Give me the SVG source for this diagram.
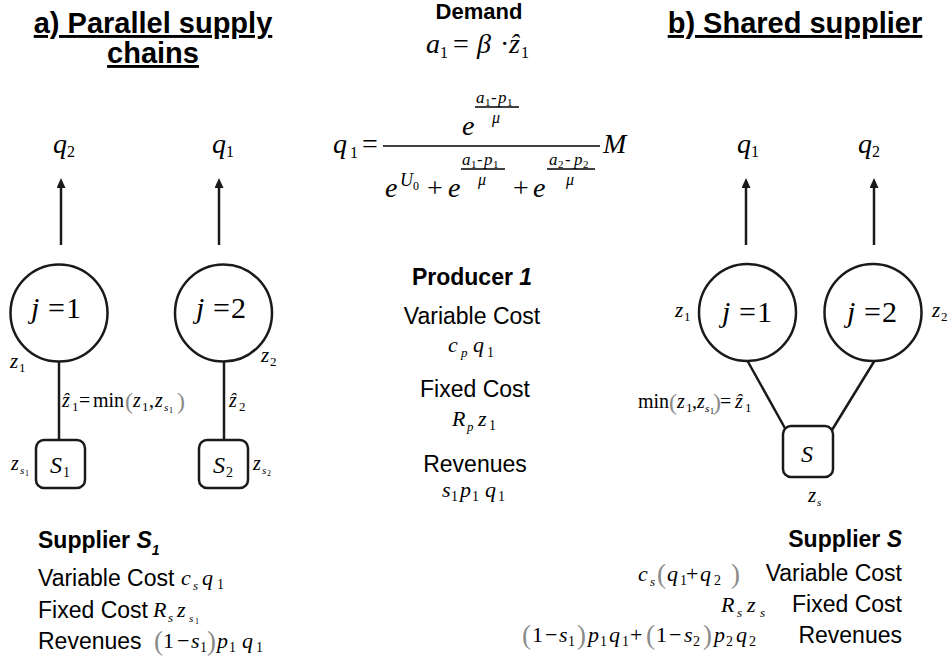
<svg xmlns="http://www.w3.org/2000/svg" width="950" height="663" viewBox="0 0 950 663">
<defs>
<style>
text { fill:#000; }
.mi { font-family:"Liberation Serif","DejaVu Serif",serif; font-style:italic; }
.up { font-style:normal; }
.ss { font-family:"Liberation Sans",Arial,sans-serif; }
.bd { font-weight:bold; }
.par { fill:#8a8a8a; font-style:normal; }
.node { fill:#fff; stroke:#1a1a1a; stroke-width:2.5; }
.conn { stroke:#1a1a1a; stroke-width:2.5; fill:none; }
.bar { stroke:#000; stroke-width:1.3; }
</style>
<marker id="ah" markerUnits="userSpaceOnUse" markerWidth="10" markerHeight="9" viewBox="0 0 10 9" refX="0" refY="4.5" orient="auto"><path d="M0,0 L10,4.5 L0,9 z" fill="#1a1a1a"/></marker>
</defs>
<rect width="950" height="663" fill="#fff"/>

<!-- titles -->
<text class="ss bd" x="153" y="33" font-size="29" text-anchor="middle" text-decoration="underline">a) Parallel supply</text>
<text class="ss bd" x="153" y="63" font-size="29" text-anchor="middle" text-decoration="underline">chains</text>
<text class="ss bd" x="795" y="33" font-size="29" text-anchor="middle" text-decoration="underline">b) Shared supplier</text>

<!-- demand -->
<text class="ss bd" x="479" y="19" font-size="22" text-anchor="middle">Demand</text>
<text class="mi" font-size="28" y="53"><tspan x="426">a</tspan><tspan class="up" x="440" y="58" font-size="16">1</tspan><tspan class="up" x="453" y="53">=</tspan><tspan x="477">β</tspan><tspan class="up" x="500">·</tspan><tspan x="509">ẑ</tspan><tspan class="up" x="521" y="58" font-size="16">1</tspan></text>

<text class="mi" font-size="28" y="153"><tspan x="333">q</tspan><tspan class="up" x="350" y="158" font-size="16">1</tspan><tspan class="up" x="362" y="153">=</tspan><tspan x="603">M</tspan></text>
<line class="bar" x1="383" y1="146" x2="600" y2="146"/>
<!-- numerator -->
<text class="mi" font-size="28" x="462" y="135">e</text>
<text class="mi" font-size="17" y="103"><tspan x="476">a</tspan><tspan class="up" x="485" y="106" font-size="11">1</tspan><tspan class="up ss" x="491" y="103">-</tspan><tspan x="498">p</tspan><tspan class="up" x="507" y="106" font-size="11">1</tspan></text>
<line class="bar" x1="475" y1="107" x2="519" y2="107" stroke-width="1"/>
<text class="mi" font-size="16" x="492" y="123">μ</text>
<!-- denominator -->
<text class="mi" font-size="28" y="197"><tspan x="385">e</tspan><tspan class="up" x="427">+</tspan><tspan x="448">e</tspan><tspan class="up" x="513">+</tspan><tspan x="533">e</tspan></text>
<text class="mi" font-size="18" y="186"><tspan x="400">U</tspan><tspan class="up" x="413" y="190" font-size="12">0</tspan></text>
<text class="mi" font-size="17" y="165"><tspan x="462">a</tspan><tspan class="up" x="471" y="168" font-size="11">1</tspan><tspan class="up ss" x="477" y="165">-</tspan><tspan x="484">p</tspan><tspan class="up" x="493" y="168" font-size="11">1</tspan></text>
<line class="bar" x1="461" y1="169" x2="505" y2="169" stroke-width="1"/>
<text class="mi" font-size="16" x="478" y="185">μ</text>
<text class="mi" font-size="17" y="165"><tspan x="549">a</tspan><tspan class="up" x="558" y="168" font-size="11">2</tspan><tspan class="up ss" x="565" y="165">-</tspan><tspan x="574">p</tspan><tspan class="up" x="583" y="168" font-size="11">2</tspan></text>
<line class="bar" x1="547" y1="169" x2="595" y2="169" stroke-width="1"/>
<text class="mi" font-size="16" x="566" y="185">μ</text>

<!-- q labels -->
<text class="mi" font-size="28" y="153"><tspan x="53">q</tspan><tspan class="up" x="67" y="157" font-size="16">2</tspan></text>
<text class="mi" font-size="28" y="153"><tspan x="212">q</tspan><tspan class="up" x="226" y="157" font-size="16">1</tspan></text>
<text class="mi" font-size="28" y="153"><tspan x="737">q</tspan><tspan class="up" x="751" y="157" font-size="16">1</tspan></text>
<text class="mi" font-size="28" y="153"><tspan x="858">q</tspan><tspan class="up" x="872" y="157" font-size="16">2</tspan></text>

<!-- connectors -->
<g id="connectors">
<line class="conn" x1="61" y1="245" x2="61" y2="188" marker-end="url(#ah)"/>
<line class="conn" x1="219" y1="245" x2="219" y2="188" marker-end="url(#ah)"/>
<line class="conn" x1="746" y1="245" x2="746" y2="188" marker-end="url(#ah)"/>
<line class="conn" x1="874" y1="245" x2="874" y2="188" marker-end="url(#ah)"/>
<line class="conn" x1="59" y1="361" x2="59" y2="441"/>
<line class="conn" x1="224" y1="361" x2="224" y2="441"/>
<line class="conn" x1="747" y1="360" x2="786" y2="430"/>
<line class="conn" x1="875" y1="360" x2="832" y2="430"/>
</g>

<!-- panel a nodes -->
<g id="node-a-j1"><circle class="node" cx="59" cy="313" r="48.5"/><text class="mi" y="318" font-size="30"><tspan x="31">j</tspan><tspan class="up" x="48">=</tspan><tspan class="up" x="66">1</tspan></text></g>
<g id="node-a-j2"><circle class="node" cx="223.5" cy="313" r="48.5"/><text class="mi" y="318" font-size="30"><tspan x="196">j</tspan><tspan class="up" x="213">=</tspan><tspan class="up" x="231">2</tspan></text></g>
<g id="node-a-s1"><rect class="node" x="36" y="440" width="49" height="48" rx="8"/><text class="mi" font-size="24" y="473"><tspan x="50">S</tspan><tspan class="up" x="63" y="477" font-size="14">1</tspan></text></g>
<g id="node-a-s2"><rect class="node" x="199" y="440" width="49" height="48" rx="8"/><text class="mi" font-size="24" y="473"><tspan x="213">S</tspan><tspan class="up" x="226" y="477" font-size="14">2</tspan></text></g>

<!-- panel b nodes -->
<g id="node-b-j1"><circle class="node" cx="747.5" cy="312.5" r="48.5"/><text class="mi" y="322" font-size="30"><tspan x="722">j</tspan><tspan class="up" x="739">=</tspan><tspan class="up" x="757">1</tspan></text></g>
<g id="node-b-j2"><circle class="node" cx="873" cy="312.5" r="48.5"/><text class="mi" y="322" font-size="30"><tspan x="847">j</tspan><tspan class="up" x="864">=</tspan><tspan class="up" x="882">2</tspan></text></g>
<g id="node-b-s"><rect class="node" x="783" y="426" width="50" height="51" rx="8"/><text class="mi" font-size="24" x="801" y="462">S</text></g>

<!-- panel a labels -->
<text class="mi" font-size="21" y="368"><tspan x="10">z</tspan><tspan class="up" x="19" y="372" font-size="13">1</tspan></text>
<text class="mi" font-size="21" y="362"><tspan x="261">z</tspan><tspan class="up" x="270" y="366" font-size="13">2</tspan></text>
<text class="mi" font-size="20" y="407"><tspan x="62">ẑ</tspan><tspan class="up" x="72" y="411" font-size="13">1</tspan><tspan class="up" x="79" y="407">=</tspan><tspan class="up" x="93">min</tspan><tspan class="par" x="125" y="409" font-size="24">(</tspan><tspan x="133" y="407">z</tspan><tspan class="up" x="142" y="411" font-size="13">1</tspan><tspan class="up" x="149" y="407">,</tspan><tspan x="155">z</tspan><tspan x="164" y="411" font-size="11">s</tspan><tspan class="up" x="169" y="413" font-size="8">1</tspan><tspan class="par" x="177" y="409" font-size="24">)</tspan></text>
<text class="mi" font-size="20" y="407"><tspan x="229">ẑ</tspan><tspan class="up" x="239" y="411" font-size="13">2</tspan></text>
<text class="mi" font-size="20" y="470"><tspan x="11">z</tspan><tspan x="20" y="474" font-size="11">s</tspan><tspan class="up" x="25" y="476" font-size="8">1</tspan></text>
<text class="mi" font-size="20" y="470"><tspan x="253">z</tspan><tspan x="262" y="474" font-size="11">s</tspan><tspan class="up" x="267" y="476" font-size="8">2</tspan></text>

<!-- panel b labels -->
<text class="mi" font-size="21" y="317"><tspan x="675">z</tspan><tspan class="up" x="684" y="321" font-size="13">1</tspan></text>
<text class="mi" font-size="21" y="317"><tspan x="932">z</tspan><tspan class="up" x="941" y="321" font-size="13">2</tspan></text>
<text class="mi" font-size="20" y="408"><tspan class="up" x="638">min</tspan><tspan class="par" x="669" y="410" font-size="24">(</tspan><tspan x="677" y="408">z</tspan><tspan class="up" x="686" y="412" font-size="13">1</tspan><tspan class="up" x="692" y="408">,</tspan><tspan x="697">z</tspan><tspan x="705" y="412" font-size="11">s</tspan><tspan class="up" x="710" y="414" font-size="8">1</tspan><tspan class="par" x="713" y="410" font-size="24">)</tspan><tspan class="up" x="720" y="408">=</tspan><tspan x="735">ẑ</tspan><tspan class="up" x="745" y="412" font-size="13">1</tspan></text>
<text class="mi" font-size="21" y="502"><tspan x="808">z</tspan><tspan x="817" y="506" font-size="11">s</tspan></text>

<!-- producer -->
<text class="ss bd" x="472" y="285" font-size="23" text-anchor="middle">Producer <tspan font-style="italic">1</tspan></text>
<text class="ss" x="472" y="324" font-size="23" text-anchor="middle">Variable Cost</text>
<text class="mi" font-size="22" y="352"><tspan x="448">c</tspan><tspan x="461" y="357" font-size="13">p</tspan><tspan x="473" y="352">q</tspan><tspan class="up" x="487" y="357" font-size="14">1</tspan></text>
<text class="ss" x="475" y="397" font-size="23" text-anchor="middle">Fixed Cost</text>
<text class="mi" font-size="22" y="426"><tspan x="452">R</tspan><tspan x="467" y="431" font-size="13">p</tspan><tspan x="478" y="426">z</tspan><tspan class="up" x="489" y="430" font-size="14">1</tspan></text>
<text class="ss" x="475" y="472" font-size="23" text-anchor="middle">Revenues</text>
<text class="mi" font-size="22" y="497"><tspan x="442">s</tspan><tspan class="up" x="451" y="501" font-size="14">1</tspan><tspan x="460" y="497">p</tspan><tspan class="up" x="472" y="501" font-size="14">1</tspan><tspan x="485" y="497">q</tspan><tspan class="up" x="498" y="501" font-size="14">1</tspan></text>

<!-- supplier S1 -->
<text class="ss bd" x="38" y="548" font-size="23">Supplier <tspan font-style="italic">S</tspan><tspan font-style="italic" font-size="14" y="555">1</tspan></text>
<text class="ss" x="38" y="586" font-size="23">Variable Cost</text>
<text class="mi" font-size="22" y="585"><tspan x="181">c</tspan><tspan x="193" y="590" font-size="13">s</tspan><tspan x="202" y="585">q</tspan><tspan class="up" x="217" y="589" font-size="14">1</tspan></text>
<text class="ss" x="38" y="618" font-size="23">Fixed Cost</text>
<text class="mi" font-size="22" y="617"><tspan x="153">R</tspan><tspan x="168" y="622" font-size="13">s</tspan><tspan x="177" y="617">z</tspan><tspan x="189" y="622" font-size="11">s</tspan><tspan class="up" x="195" y="624" font-size="8">1</tspan></text>
<text class="ss" x="38" y="649" font-size="23">Revenues</text>
<text class="mi" font-size="22" y="648"><tspan class="par" x="154" y="650" font-size="27">(</tspan><tspan class="up" x="163" y="648">1</tspan><tspan class="up" x="177">−</tspan><tspan x="191">s</tspan><tspan class="up" x="200" y="652" font-size="14">1</tspan><tspan class="par" x="207" y="650" font-size="27">)</tspan><tspan x="217" y="648">p</tspan><tspan class="up" x="229" y="652" font-size="14">1</tspan><tspan x="242" y="648">q</tspan><tspan class="up" x="256" y="652" font-size="14">1</tspan></text>

<!-- supplier S -->
<text class="ss bd" x="902" y="547" font-size="23" text-anchor="end">Supplier <tspan font-style="italic">S</tspan></text>
<text class="ss" x="902" y="581" font-size="23" text-anchor="end">Variable Cost</text>
<text class="mi" font-size="22" y="581"><tspan x="638">c</tspan><tspan x="650" y="586" font-size="13">s</tspan><tspan class="par" x="657" y="583" font-size="27">(</tspan><tspan x="667" y="581">q</tspan><tspan class="up" x="680" y="585" font-size="14">1</tspan><tspan class="up" x="686" y="581">+</tspan><tspan x="700">q</tspan><tspan class="up" x="714" y="585" font-size="14">2</tspan><tspan class="par" x="731" y="583" font-size="27">)</tspan></text>
<text class="ss" x="902" y="612" font-size="23" text-anchor="end">Fixed Cost</text>
<text class="mi" font-size="22" y="612"><tspan x="721">R</tspan><tspan x="737" y="617" font-size="13">s</tspan><tspan x="747" y="612">z</tspan><tspan x="760" y="617" font-size="13">s</tspan></text>
<text class="ss" x="902" y="643" font-size="23" text-anchor="end">Revenues</text>
<text class="mi" font-size="22" y="642"><tspan class="par" x="522" y="644" font-size="27">(</tspan><tspan class="up" x="532" y="642">1</tspan><tspan class="up" x="545">−</tspan><tspan x="559">s</tspan><tspan class="up" x="568" y="646" font-size="14">1</tspan><tspan class="par" x="577" y="644" font-size="27">)</tspan><tspan x="588" y="642">p</tspan><tspan class="up" x="600" y="646" font-size="14">1</tspan><tspan x="609" y="642">q</tspan><tspan class="up" x="622" y="646" font-size="14">1</tspan><tspan class="up" x="630" y="642">+</tspan><tspan class="par" x="646" y="644" font-size="27">(</tspan><tspan class="up" x="656" y="642">1</tspan><tspan class="up" x="669">−</tspan><tspan x="684">s</tspan><tspan class="up" x="693" y="646" font-size="14">2</tspan><tspan class="par" x="703" y="644" font-size="27">)</tspan><tspan x="714" y="642">p</tspan><tspan class="up" x="726" y="646" font-size="14">2</tspan><tspan x="736" y="642">q</tspan><tspan class="up" x="749" y="646" font-size="14">2</tspan></text>
</svg>
